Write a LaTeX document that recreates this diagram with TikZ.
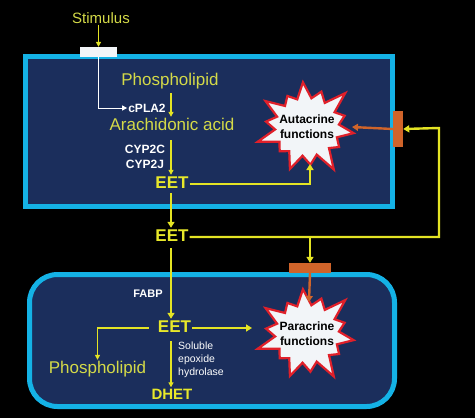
\documentclass[tikz,border=0pt]{standalone}
\usepackage{fontspec}
\setmainfont{Liberation Sans}
\usetikzlibrary{arrows.meta,calc}
\definecolor{bgnavy}{HTML}{1B2E5C}
\definecolor{cellcyan}{HTML}{14B2E6}
\definecolor{txtyellow}{HTML}{D4DA48}
\definecolor{eetyellow}{HTML}{E8E82A}
\definecolor{lineyellow}{HTML}{E4E424}
\definecolor{recorange}{HTML}{D0642A}
\definecolor{burstred}{HTML}{E0202A}
\definecolor{burstfill}{HTML}{F2F5F8}
\tikzset{
  cell/.style={draw=cellcyan, line width=5pt, fill=bgnavy},
  ytxt/.style={text=txtyellow, font=\fontsize{17}{20}\selectfont, inner sep=1pt, text height=12.5pt, text depth=3.5pt},
  eet/.style={text=eetyellow, font=\bfseries\fontsize{17}{20}\selectfont, inner sep=1pt, text height=12.5pt, text depth=3.5pt},
  wtxt/.style={text=white, font=\bfseries\fontsize{12}{14.5}\selectfont, inner sep=1pt, align=center},
  burstline/.style={draw=burstred, line width=2.2pt, fill=burstfill, line join=miter},
  bursttxt/.style={text=black, align=center, font=\bfseries\fontsize{12}{15}\selectfont, inner sep=0pt},
  thickar/.style={lineyellow, line width=2.4pt, -{Triangle[width=7pt,length=6pt]}},
  thinar/.style={lineyellow, line width=1.2pt, -{Triangle[width=5pt,length=5pt]}},
  orar/.style={recorange, line width=2.4pt, -{Triangle[width=7pt,length=6pt]}},
  orrec/.style={fill=recorange, inner sep=0pt},
}
\newcommand{\drawburst}[1]{%
  \draw[burstline, shift={(#1)}] (8:47 and 44)
    \foreach \a/\f in {8/0.82, 33.71/1.12, 59.43/0.86, 85.14/1.02, 110.86/0.8,
       136.57/1.1, 162.29/0.88, 188/1.06, 213.71/0.82, 239.43/1.02, 265.14/0.86,
       290.86/1.12, 316.57/0.84, 342.29/1.0}
    { -- (\a+12.86:32 and 29) -- (\a+25.71:{47*\f} and {44*\f}) } -- cycle;}
\begin{document}
\begin{tikzpicture}[x=1pt,y=-1pt]
\fill[black] (0,0) rectangle (475,418);
\useasboundingbox (0,0) rectangle (475,418);
% cells
\draw[cell] (25.5,56.5) rectangle (392.5,206.5);
\draw[cell, rounded corners=28pt] (29.5,274.5) rectangle (394.5,406.5);
% receptors
\node[fill=burstfill, inner sep=0pt, minimum width=37pt, minimum height=10pt] (rec1) at (98.5,52) {};
\node[orrec, minimum width=10pt, minimum height=36pt] (orec1) at (398,129) {};
\node[orrec, minimum width=42pt, minimum height=10pt] (orec2) at (310,268) {};
% texts
\node[text=txtyellow, font=\fontsize{15}{18}\selectfont, inner sep=1pt] (stim) at (101,18) {Stimulus};
\node[ytxt] (pl1) at (170,81) {Phospholipid};
\node[wtxt] (cpla) at (147,108) {cPLA2};
\node[ytxt] (aa) at (172,126) {Arachidonic acid};
\node[wtxt] (cyp) at (145,157) {CYP2C\\CYP2J};
\node[eet] (eet1) at (172,184) {EET};
\node[eet] (eet2) at (172,237) {EET};
\node[wtxt, font=\bfseries\fontsize{11}{13}\selectfont] (fabp) at (148,294) {FABP};
\node[eet] (eet3) at (174.5,328) {EET};
\node[ytxt] (pl2) at (97.5,369) {Phospholipid};
\node[text=white, font=\fontsize{10.5}{12.8}\selectfont, align=left, anchor=north west, inner sep=0pt] (seh) at (178,342) {Soluble\\epoxide\\hydrolase};
\node[text=eetyellow, font=\bfseries\fontsize{15}{18}\selectfont, inner sep=1pt, text height=11pt, text depth=0pt] (dhet) at (172,394) {DHET};
% bursts
\coordinate (b1c) at (307,127);
\coordinate (b2c) at (307,334);
\drawburst{b1c}
\drawburst{b2c}
\node[bursttxt] (b1) at (b1c) {Autacrine\\functions};
\node[bursttxt] (b2) at (b2c) {Paracrine\\functions};
% spine
\coordinate (sp) at (171,0);
\coordinate (cR) at (439,128);
% connectors
\draw[thinar] (rec1.north |- stim.south) -- (rec1.north);
\draw[white, line width=1pt, -{Triangle[width=5pt,length=5pt]}] (rec1.south) |- (cpla.west);
\draw[thinar, shorten <=3pt] (pl1.south -| sp) -- (aa.north -| sp);
\draw[thinar, shorten <=5pt] (aa.south -| sp) -- (eet1.north -| sp);
\draw[thickar] (eet1.south -| sp) -- (eet2.north -| sp);
\draw[thickar] (eet1.east) -| ($(b1.center)+(3,37)$);
\draw[thickar] (eet2.east) -| (cR) -- (orec1.east);
\draw[thickar] (eet2.east -| orec2) -- (orec2.north);
\draw[orar] (orec1.west) -- ($(b1.center)+(45,0)$);
\draw[orar] (orec2.south) -- ($(b2.center)+(2,-32)$);
\draw[thickar, shorten <=2pt] (eet2.south -| sp) -- (eet3.north -| sp);
\draw[thickar] (eet3.east) -- ($(b2.center)+(-55,-6)$);
\draw[lineyellow, line width=1.2pt, -{Triangle[width=5pt,length=5pt]}, shorten <=8pt] (eet3.west) -| (pl2.north);
\draw[thinar, shorten <=4pt] (eet3.south -| sp) -- (dhet.north -| sp);
\end{tikzpicture}
\end{document}
